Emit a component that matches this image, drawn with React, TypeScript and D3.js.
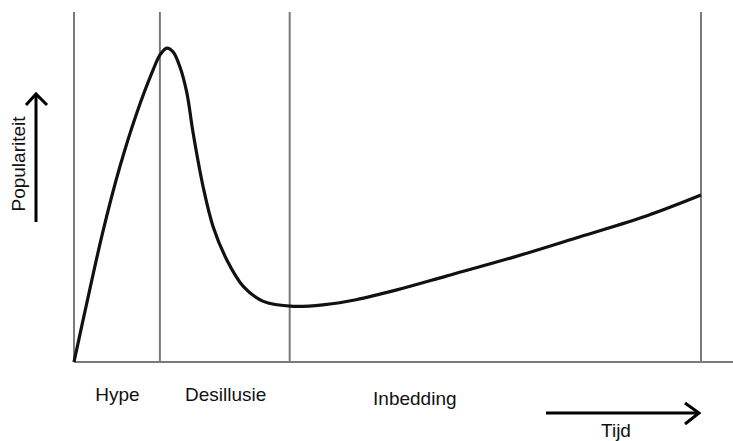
import React, {useRef, useEffect} from 'react';
import * as d3 from 'd3';

// hype curve, time in abstract units (0..10), popularity 0..100
const curveTime = [0, 0.2, 0.46, 0.73, 1.0, 1.26, 1.37, 1.48, 1.58, 1.69, 1.8, 1.9, 2.06, 2.22, 2.44, 2.7, 3.01, 3.5, 4.0, 4.5, 5.15, 5.95, 7.0, 8.07, 9.14, 10];
const curvePopularity = [0, 16.5, 37.2, 55.7, 71.1, 83.4, 87.7, 89.7, 88.6, 84.3, 76.9, 65.4, 50, 38.6, 29.1, 21.6, 17.4, 15.9, 16.4, 17.8, 20.6, 24.6, 29.9, 35.8, 41.8, 47.7];

// phase boundaries
const phaseBounds = [0, 1.37, 3.44, 10];
const phaseLabels = ['Hype', 'Desillusie', 'Inbedding'];
const phaseLabelX = [0.34, 1.77, 4.77];

const W = 733;
const H = 441;

const App: React.FC = () => {
    const ref = useRef<SVGSVGElement | null>(null);

    useEffect(() => {
        const svg = d3.select(ref.current);
        svg.selectAll('*').remove();

        const x = d3.scaleLinear().domain([0, 10]).range([74, 701]);
        const y = d3.scaleLinear().domain([0, 100]).range([362, 12]);
        const font = '"Liberation Sans", Arial, sans-serif';

        // baseline
        svg.append('line')
            .attr('x1', x(0)).attr('x2', W)
            .attr('y1', y(0)).attr('y2', y(0))
            .attr('stroke', '#7a7a7a')
            .attr('stroke-width', 2);

        // phase separators
        svg.selectAll('line.phase')
            .data(phaseBounds)
            .enter()
            .append('line')
            .attr('class', 'phase')
            .attr('x1', d => x(d)).attr('x2', d => x(d))
            .attr('y1', y(100)).attr('y2', y(0))
            .attr('stroke', '#7a7a7a')
            .attr('stroke-width', 2);

        const pts: [number, number][] = curveTime.map((t, i) => [t, curvePopularity[i]]);
        const line = d3.line<[number, number]>()
            .x(d => x(d[0]))
            .y(d => y(d[1]))
            .curve(d3.curveCatmullRom.alpha(0.5));

        svg.append('path')
            .attr('d', line(pts))
            .attr('fill', 'none')
            .attr('stroke', '#111')
            .attr('stroke-width', 3.2)
            .attr('stroke-linejoin', 'round');

        // phase labels
        svg.selectAll('text.phase')
            .data(phaseLabels)
            .enter()
            .append('text')
            .attr('class', 'phase')
            .attr('x', (d, i) => x(phaseLabelX[i]))
            .attr('y', (d, i) => i === 2 ? 405 : 401)
            .attr('font-family', font)
            .attr('font-size', 19)
            .attr('fill', '#111')
            .text(d => d);

        // time arrow
        const arrow = (g: d3.Selection<SVGGElement, unknown, null, undefined>) => g
            .attr('fill', 'none')
            .attr('stroke', '#000')
            .attr('stroke-width', 3);

        const tArrow = svg.append('g').call(arrow);
        tArrow.append('line').attr('x1', 546).attr('x2', 699).attr('y1', 413).attr('y2', 413);
        tArrow.append('path').attr('d', 'M685,403 L699,413 L685,424');

        svg.append('text')
            .attr('x', 616).attr('y', 437)
            .attr('text-anchor', 'middle')
            .attr('font-family', font)
            .attr('font-size', 19)
            .attr('fill', '#111')
            .text('Tijd');

        // popularity arrow
        const pArrow = svg.append('g').call(arrow);
        pArrow.append('line').attr('x1', 36).attr('x2', 36).attr('y1', 222).attr('y2', 94);
        pArrow.append('path').attr('d', 'M26,105 L36,94 L47,105');

        svg.append('text')
            .attr('transform', 'translate(25,164) rotate(-90)')
            .attr('text-anchor', 'middle')
            .attr('font-family', font)
            .attr('font-size', 19)
            .attr('fill', '#111')
            .text('Populariteit');
    }, []);

    return (
        <svg ref={ref} width={W} height={H}
             style={{position: 'absolute', left: 0, top: 0, background: '#fff'}} />
    );
};

export default App;
